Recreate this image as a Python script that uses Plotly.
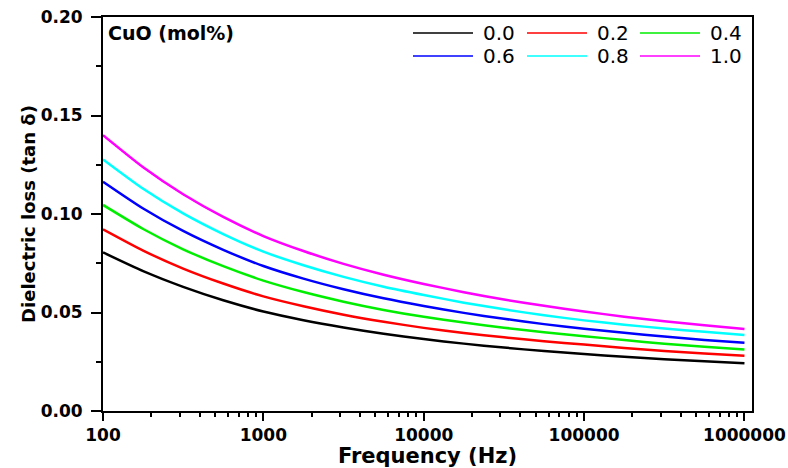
import plotly.graph_objects as go

freq = [100, 178, 316, 562, 1000, 1778, 3162, 5623, 10000, 17783, 31623,
        56234, 100000, 177828, 316228, 562341, 1000000]

labels = ["0.0", "0.2", "0.4", "0.6", "0.8", "1.0"]
colors = ["#000000", "#FF0000", "#00EE00", "#0000FF", "#00FFFF", "#FF00FF"]

loss_00 = [0.0805, 0.0710, 0.0630, 0.0562, 0.0505, 0.0461, 0.0424, 0.0392, 0.0365,
           0.0342, 0.0322, 0.0304, 0.0289, 0.0275, 0.0263, 0.0252, 0.0242]
loss_02 = [0.0922, 0.0814, 0.0723, 0.0647, 0.0582, 0.0532, 0.0489, 0.0453, 0.0422,
           0.0396, 0.0374, 0.0354, 0.0337, 0.0320, 0.0305, 0.0292, 0.0280]
loss_04 = [0.1046, 0.0924, 0.0821, 0.0735, 0.0662, 0.0604, 0.0555, 0.0513, 0.0478,
           0.0449, 0.0423, 0.0400, 0.0380, 0.0360, 0.0342, 0.0326, 0.0312]
loss_06 = [0.1164, 0.1028, 0.0914, 0.0818, 0.0736, 0.0672, 0.0618, 0.0572, 0.0533,
           0.0498, 0.0468, 0.0441, 0.0418, 0.0397, 0.0378, 0.0361, 0.0347]
loss_08 = [0.1277, 0.1128, 0.1003, 0.0898, 0.0809, 0.0740, 0.0681, 0.0631, 0.0589,
           0.0550, 0.0516, 0.0486, 0.0460, 0.0438, 0.0419, 0.0402, 0.0386]
loss_10 = [0.1400, 0.1237, 0.1100, 0.0985, 0.0888, 0.0812, 0.0747, 0.0692, 0.0645,
           0.0603, 0.0566, 0.0534, 0.0505, 0.0479, 0.0456, 0.0435, 0.0416]

series = [loss_00, loss_02, loss_04, loss_06, loss_08, loss_10]

x_major = [100, 1000, 10000, 100000, 1000000]
x_major_text = ["100", "1000", "10000", "100000", "1000000"]
y_major = [0.00, 0.05, 0.10, 0.15, 0.20]

FONT = "DejaVu Sans"
W, H = 788, 468
L, R, T, B = 103, 36, 17, 57
pw, ph = W - L - R, H - T - B

def px(xp):
    return (xp - L) / pw

def py(yp):
    return (H - B - yp) / ph

fig = go.Figure()
for lab, col, ys in zip(labels, colors, series):
    fig.add_trace(go.Scatter(x=freq, y=ys, mode="lines", name=lab,
                             line=dict(color=col, width=2.5, shape="spline", smoothing=0.6),
                             showlegend=False))

# manual legend (3 columns x 2 rows)
col_x = [413, 527, 640]
row_y = [33, 56]
shapes = []
annotations = []
for i, (lab, col) in enumerate(zip(labels, colors)):
    r, c = divmod(i, 3)
    x0 = col_x[c]
    yy = row_y[r]
    shapes.append(dict(type="line", xref="paper", yref="paper",
                       x0=px(x0), x1=px(x0 + 60), y0=py(yy), y1=py(yy),
                       line=dict(color=col, width=1.5)))
    annotations.append(dict(text=lab, xref="paper", yref="paper",
                            x=px(x0 + 68), y=py(yy), xanchor="left", yanchor="middle",
                            showarrow=False, font=dict(family=FONT, size=20, color="#000")))

annotations.append(dict(text="<b>CuO (mol%)</b>", xref="paper", yref="paper",
                        x=px(106), y=py(33), xanchor="left", yanchor="middle",
                        showarrow=False, font=dict(family=FONT, size=19, color="#000")))

minor_x = [m * 10 ** e for e in range(2, 6) for m in range(2, 10)]

fig.update_layout(
    width=W, height=H,
    margin=dict(l=L, r=R, t=T, b=B, pad=0, autoexpand=False),
    paper_bgcolor="white", plot_bgcolor="white",
    shapes=shapes, annotations=annotations,
    xaxis=dict(type="log", range=[2, 6.047], automargin=False,
               tickmode="array", tickvals=x_major, ticktext=[f"<b>{t}</b>" for t in x_major_text],
               ticks="outside", ticklen=8, tickwidth=2, tickcolor="#000",
               ticklabelstandoff=0,
               showline=True, linecolor="#000", linewidth=2, mirror=True,
               showgrid=False, zeroline=False,
               tickfont=dict(family=FONT, size=17, color="#000"),
               minor=dict(tickmode="array", tickvals=minor_x, ticks="outside",
                          ticklen=4, tickwidth=1.5, tickcolor="#000", showgrid=False),
               title=dict(text="<b>Frequency (Hz)</b>", standoff=8,
                          font=dict(family=FONT, size=21, color="#000"))),
    yaxis=dict(range=[0, 0.2], automargin=False, tickmode="array", tickvals=y_major,
               ticktext=[f"<b>{v:.2f}</b>" for v in y_major],
               ticks="outside", ticklen=10, tickwidth=2, tickcolor="#000",
               ticklabelstandoff=5,
               showline=True, linecolor="#000", linewidth=2, mirror=True,
               showgrid=False, zeroline=False,
               tickfont=dict(family=FONT, size=17, color="#000"),
               minor=dict(dtick=0.025, tick0=0, ticks="outside",
                          ticklen=5, tickwidth=1.5, tickcolor="#000", showgrid=False),
               title=dict(text="<b>Dielectric loss (tan δ)</b>", standoff=0,
                          font=dict(family=FONT, size=18, color="#000"))),
)

fig.write_html("out.html")
